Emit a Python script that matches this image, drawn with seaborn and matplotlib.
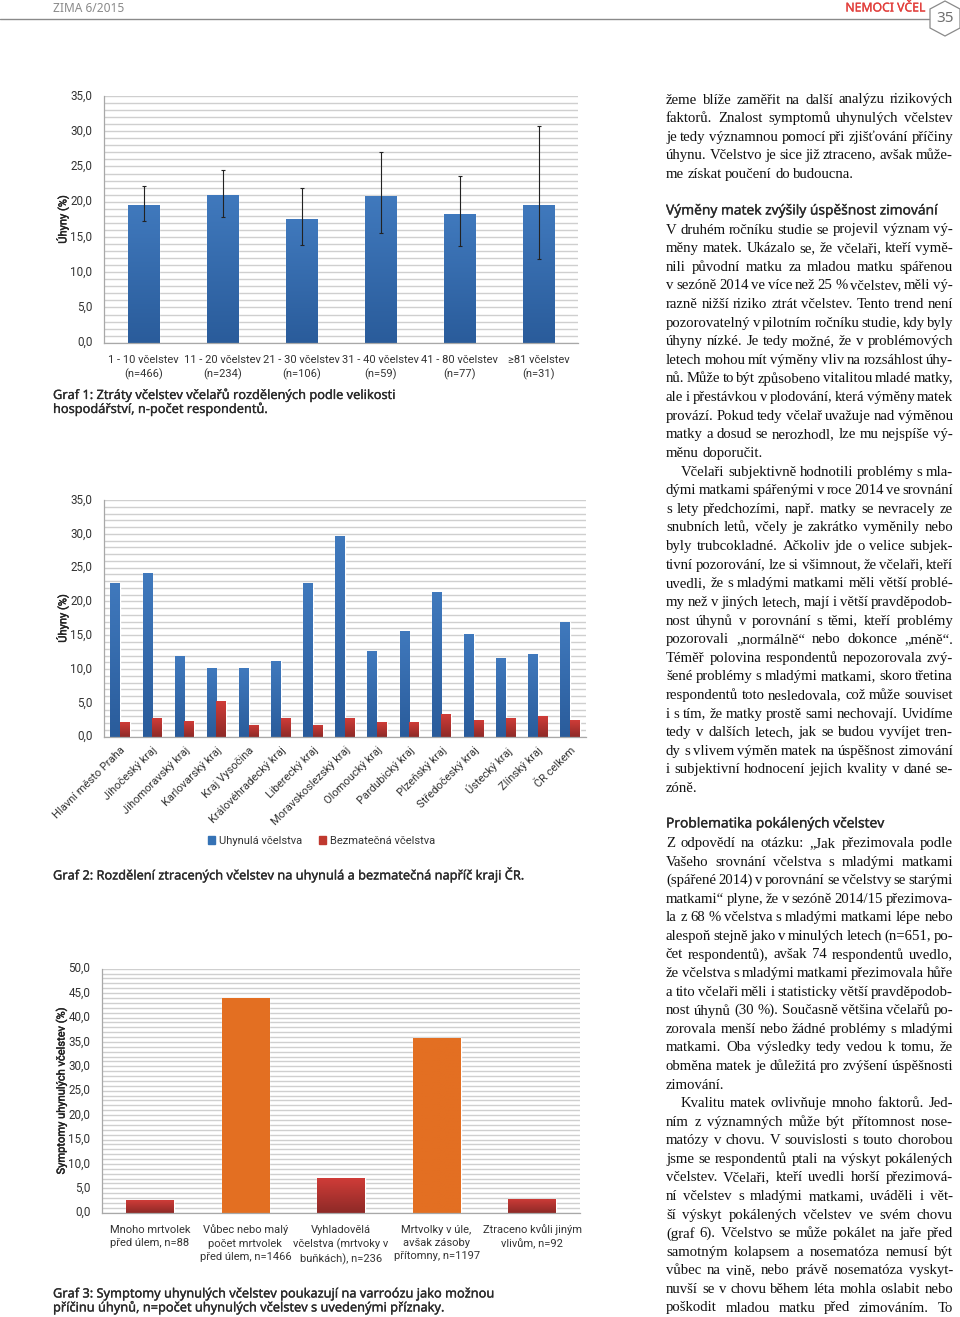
import numpy as np
import pandas as pd
import matplotlib
matplotlib.use("Agg")
import matplotlib.pyplot as plt
import matplotlib.patheffects as pe
from matplotlib.colors import LinearSegmentedColormap, to_hex
from matplotlib.patches import Patch, Polygon
import seaborn as sns

# ---------- data ----------
size_labels = ["1 - 10 včelstev\n(n=466)", "11 - 20 včelstev\n(n=234)", "21 - 30 včelstev\n(n=106)",
               "31 - 40 včelstev\n(n=59)", "41 - 80 včelstev\n(n=77)", "≥81 včelstev\n(n=31)"]
size_loss = [19.6, 21.0, 17.6, 20.8, 18.2, 19.6]
size_upper = [22.3, 24.5, 22.0, 27.1, 23.7, 30.7]
size_lower = [17.2, 17.8, 13.9, 15.5, 13.7, 11.9]

regions = ["Hlavní město Praha", "Jihočeský kraj", "Jihomoravský kraj", "Karlovarský kraj", "Kraj Vysočina",
           "Královéhradecký kraj", "Liberecký kraj", "Moravskoslezský kraj", "Olomoucký kraj", "Pardubický kraj",
           "Plzeňský kraj", "Středočeský kraj", "Ústecký kraj", "Zlínský kraj", "ČR celkem"]
dead = [22.8, 24.2, 11.9, 10.1, 10.2, 11.2, 22.8, 29.7, 12.6, 15.7, 21.4, 15.2, 11.7, 12.2, 16.9]
queenless = [2.2, 2.7, 2.3, 5.3, 1.8, 2.7, 1.8, 2.8, 2.1, 2.2, 3.3, 2.5, 2.8, 3.0, 2.5]
series_names = ["Uhynulá včelstva", "Bezmatečná včelstva"]

symptom_labels = ["Mnoho mrtvolek\npřed úlem, n=88", "Vůbec nebo malý\npočet mrtvolek\npřed úlem, n=1466",
                  "Vyhladovělá\nvčelstva (mrtvoky v\nbuňkách), n=236", "Mrtvolky v úle,\navšak zásoby\npřítomny, n=1197",
                  "Ztraceno kvůli jiným\nvlivům, n=92"]
symptom_values = [2.6, 44.0, 7.1, 35.9, 2.9]

caption1 = ["Graf 1: Ztráty včelstev včelařů rozdělených podle velikosti", "hospodářství, n-počet respondentů."]
caption2 = ["Graf 2: Rozdělení ztracených včelstev na uhynulá a bezmatečná napříč kraji ČR."]
caption3 = ["Graf 3: Symptomy uhynulých včelstev poukazují na varroózu jako možnou",
            "příčinu úhynů, n=počet uhynulých včelstev s uvedenými příznaky."]

para1 = ["žeme blíže zaměřit na další analýzu rizikových", "faktorů. Znalost symptomů uhynulých včelstev",
         "je tedy významnou pomocí při zjišťování příčiny", "úhynu. Včelstvo je sice již ztraceno, avšak může-",
         "me získat poučení do budoucna."]
head2 = "Výměny matek zvýšily úspěšnost zimování"
para2 = ["V druhém ročníku studie se projevil význam vý-", "měny matek. Ukázalo se, že včelaři, kteří vymě-",
         "nili původní matku za mladou matku spářenou", "v sezóně 2014 ve více než 25 % včelstev, měli vý-",
         "razně nižší riziko ztrát včelstev. Tento trend není", "pozorovatelný v pilotním ročníku studie, kdy byly",
         "úhyny nízké. Je tedy možné, že v problémových", "letech mohou mít výměny vliv na rozsáhlost úhy-",
         "nů. Může to být způsobeno vitalitou mladé matky,", "ale i přestávkou v plodování, která výměny matek",
         "provází. Pokud tedy včelař uvažuje nad výměnou", "matky a dosud se nerozhodl, lze mu nejspíše vý-",
         "měnu doporučit.", "Včelaři subjektivně hodnotili problémy s mla-",
         "dými matkami spářenými v roce 2014 ve srovnání", "s lety předchozími, např. matky se nevracely ze",
         "snubních letů, včely je zakrátko vyměnily nebo", "byly trubcokladné. Ačkoliv jde o velice subjek-",
         "tivní pozorování, lze si všimnout, že včelaři, kteří", "uvedli, že s mladými matkami měli větší problé-",
         "my než v jiných letech, mají i větší pravděpodob-", "nost úhynů v porovnání s těmi, kteří problémy",
         "pozorovali „normálně“ nebo dokonce „méně“.", "Téměř polovina respondentů nepozorovala zvý-",
         "šené problémy s mladými matkami, skoro třetina", "respondentů toto nesledovala, což může souviset",
         "i s tím, že matky prostě sami nechovají. Uvidíme", "tedy v dalších letech, jak se budou vyvíjet tren-",
         "dy s vlivem výměn matek na úspěšnost zimování", "i subjektivní hodnocení jejich kvality v dané se-",
         "zóně."]
head3 = "Problematika pokálených včelstev"
para3 = ["Z odpovědí na otázku: „Jak přezimovala podle", "Vašeho srovnání včelstva s mladými matkami",
         "(spářené 2014) v porovnání se včelstvy se starými", "matkami“ plyne, že v sezóně 2014/15 přezimova-",
         "la z 68 % včelstva s mladými matkami lépe nebo", "alespoň stejně jako v minulých letech (n=651, po-",
         "čet respondentů), avšak 74 respondentů uvedlo,", "že včelstva s mladými matkami přezimovala hůře",
         "a tito včelaři měli i statisticky větší pravděpodob-", "nost úhynů (30 %). Současně většina včelařů po-",
         "zorovala menší nebo žádné problémy s mladými", "matkami. Oba výsledky tedy vedou k tomu, že",
         "obměna matek je důležitá pro zvýšení úspěšnosti", "zimování.",
         "Kvalitu matek ovlivňuje mnoho faktorů. Jed-", "ním z významných může být přítomnost nose-",
         "matózy v chovu. V souvislosti s touto chorobou", "jsme se respondentů ptali na výskyt pokálených",
         "včelstev. Včelaři, kteří uvedli horší přezimová-", "ní včelstev s mladými matkami, uváděli i vět-",
         "ší výskyt pokálených včelstev ve svém chovu", "(graf 6). Včelstvo se může pokálet na jaře před",
         "samotným kolapsem a nosematóza nemusí být", "vůbec na vině, nebo právě nosematóza vyskyt-",
         "nuvší se v chovu během léta mohla oslabit nebo", "poškodit mladou matku před zimováním. To"]
para_last = {"me získat poučení do budoucna.", "měnu doporučit.", "zóně.", "zimování."}
para_indent = {"Včelaři subjektivně hodnotili problémy s mla-", "Kvalitu matek ovlivňuje mnoho faktorů. Jed-"}

# ---------- style ----------
sns.set_theme(style="white")
plt.rcParams["font.family"] = ["Roboto", "DejaVu Sans"]
W, H = 960, 1317
fig = plt.figure(figsize=(W / 100, H / 100), dpi=100, facecolor="white")

BLUE, RED, ORANGE = "#3572b5", "#c0392f", "#e36f22"
GRAD = {BLUE: ("#4079bd", "#2a5c9b"), RED: ("#cf3c38", "#8e2a27"), ORANGE: ("#e36f22", "#e36f22")}
GRID = "#cfcfcf"
AXC = "#a8a8a8"
TXT = "#333333"
TICK = 8.0


def heavy(color, w=0.2):
    return [pe.withStroke(linewidth=w, foreground=color)]


def make_axes(left, right, top, bottom):
    return fig.add_axes([left / W, 1 - bottom / H, (right - left) / W, (bottom - top) / H])


def style_axes(ax, ymax, ylabel, labelx):
    n_cat = len(ax.get_xticks())
    ax.set_xlim(-0.5, n_cat - 0.5)
    ax.set_ylim(0, ymax)
    major = np.arange(0, ymax + 1, 5)
    ax.set_yticks(major, [f"{v:.1f}".replace(".", ",") for v in major])
    ax.set_yticks(np.arange(0, ymax + 1, 1), minor=True)
    ax.grid(which="both", axis="y", color=GRID, lw=1.0)
    ax.grid(which="both", axis="x", visible=False)
    ax.set_axisbelow(True)
    ax.set_xticks(np.arange(n_cat + 1) - 0.5, minor=True)
    sns.despine(ax=ax)
    for s in ("left", "bottom"):
        ax.spines[s].set_color(AXC)
        ax.spines[s].set_linewidth(0.9)
    ax.tick_params(axis="x", which="major", length=0, labelsize=TICK, labelcolor=TXT, pad=8.5)
    ax.tick_params(axis="x", which="minor", length=4, color=AXC, width=0.8)
    ax.tick_params(axis="y", which="major", length=4, color=AXC, width=0.8, labelsize=8.4, labelcolor=TXT, pad=4.3)
    ax.tick_params(axis="y", which="minor", length=0)
    plt.setp(ax.get_xticklabels(), linespacing=1.4)
    plt.setp(ax.get_yticklabels(), va="center")
    ax.set_xlabel("")
    ax.set_ylabel(ylabel, fontsize=TICK, color="#222222", path_effects=heavy("#222222", 0.3))
    ax.yaxis.set_label_coords(labelx, 0.5)


def gradient_bars(ax):
    xl, yl = ax.get_xlim(), ax.get_ylim()
    for bar in ax.patches:
        top, bottom = GRAD[to_hex(bar.get_facecolor())]
        cmap = LinearSegmentedColormap.from_list("g", [top, bottom])
        img = ax.imshow(np.linspace(0, 1, 64).reshape(-1, 1), cmap=cmap, aspect="auto", origin="upper",
                        extent=(bar.get_x(), bar.get_x() + bar.get_width(), 0, bar.get_height()), zorder=2.5)
        img.set_clip_path(bar)
    ax.set_xlim(xl)
    ax.set_ylim(yl)


# ---------- chart 1 ----------
ax1 = make_axes(104, 578, 96, 342.7)
df1 = pd.DataFrame({"cat": size_labels, "val": size_loss})
sns.barplot(df1, x="cat", y="val", color=BLUE, saturation=1, width=0.4, ax=ax1, errorbar=None)
ax1.errorbar(np.arange(len(size_loss)), size_loss,
             yerr=[np.subtract(size_loss, size_lower), np.subtract(size_upper, size_loss)],
             fmt="none", ecolor="#222222", elinewidth=0.8, capsize=1.6, capthick=0.8, zorder=5)
style_axes(ax1, 35, "Úhyny (%)", -0.074)
gradient_bars(ax1)

# ---------- chart 2 ----------
ax2 = make_axes(104, 586, 500, 736.7)
df2 = pd.DataFrame({"cat": regions * 2, "val": dead + queenless,
                    "kind": [series_names[0]] * len(regions) + [series_names[1]] * len(regions)})
sns.barplot(df2, x="cat", y="val", hue="kind", palette=[BLUE, RED], saturation=1, width=0.6, gap=0,
            ax=ax2, errorbar=None, legend=False)
style_axes(ax2, 35, "Úhyny (%)", -0.073)
ax2.tick_params(axis="x", which="major", pad=6)
plt.setp(ax2.get_xticklabels(), rotation=45, ha="right", rotation_mode="anchor")
gradient_bars(ax2)
ax2.legend(handles=[Patch(color=BLUE, label=series_names[0]), Patch(color=RED, label=series_names[1])],
           loc="center", bbox_to_anchor=(322 / W, 1 - 841 / H), bbox_transform=fig.transFigure, ncol=2,
           frameon=False, fontsize=TICK, labelcolor=TXT, handlelength=0.6, handleheight=0.8,
           handletextpad=0.4, columnspacing=1.5)

# ---------- chart 3 ----------
ax3 = make_axes(102, 580, 968.7, 1212.7)
df3 = pd.DataFrame({"cat": symptom_labels, "val": symptom_values})
sns.barplot(df3, x="cat", y="val", hue="cat", palette=[RED, ORANGE, RED, ORANGE, RED], saturation=1,
            width=0.5, dodge=False, ax=ax3, errorbar=None, legend=False)
style_axes(ax3, 50, "Symptomy uhynulých včelstev (%)", -0.073)
gradient_bars(ax3)

# ---------- page overlay ----------
ov = fig.add_axes([0, 0, 1, 1], zorder=10)
ov.set_xlim(0, W)
ov.set_ylim(H, 0)
ov.axis("off")
ov.patch.set_alpha(0)

ov.plot([0, 929], [18.5, 18.5], color="#8a8a8a", lw=1.0)
ov.add_patch(Polygon([(945, 1), (960, 9), (960, 28), (945, 36), (930, 28), (930, 9)], closed=True,
                     facecolor="white", edgecolor="#8a8a8a", lw=0.9, clip_on=False))
ov.text(53, 8, "ZIMA 6/2015", fontsize=8.6, color="#8a8a8a", va="center", family="Noto Sans")
ov.text(925, 8, "NEMOCI VČEL", fontsize=8.8, color="#e2403d", va="center", ha="right", family="Noto Sans",
        path_effects=heavy("#e2403d"))
ov.text(945, 19, "35", fontsize=11, color="#6f6f6f", va="center", ha="center", family="Noto Sans")

CAP = dict(fontsize=9.2, color="#2a2a2a", va="center", family="Noto Sans", path_effects=heavy("#2a2a2a"))
for y, line in zip((395, 409), caption1):
    ov.text(53, y, line, **CAP)
ov.text(53, 875, caption2[0], **CAP)
for y, line in zip((1294, 1307.5), caption3):
    ov.text(53, y, line, **CAP)
ov.text(666, 211, head2, **{**CAP, "fontsize": 9.9})
ov.text(666, 824, head3, **{**CAP, "fontsize": 9.9})

rend = fig.canvas.get_renderer()
BODY = dict(fontsize=10.6, color="#111111", va="center", family="Liberation Serif")
X0, X1 = 666, 953
SPACE = 3.4


def draw_lines(lines, y0, step):
    for i, line in enumerate(lines):
        y = y0 + i * step
        x0 = X0 + (15 if line in para_indent else 0)
        words = line.split(" ")
        arts = [ov.text(x0, y, w, **BODY) for w in words]
        widths = [a.get_window_extent(rend).width for a in arts]
        if line in para_last or len(words) == 1:
            gap = SPACE
        else:
            gap = (X1 - x0 - sum(widths)) / (len(words) - 1)
        x = x0
        for a, w_ in zip(arts, widths):
            a.set_x(x)
            x += w_ + gap


draw_lines(para1, 100, 18.6)
draw_lines(para2, 230, 18.62)
draw_lines(para3, 843.5, 18.58)

fig.savefig("out.png", dpi=100, facecolor="white")
